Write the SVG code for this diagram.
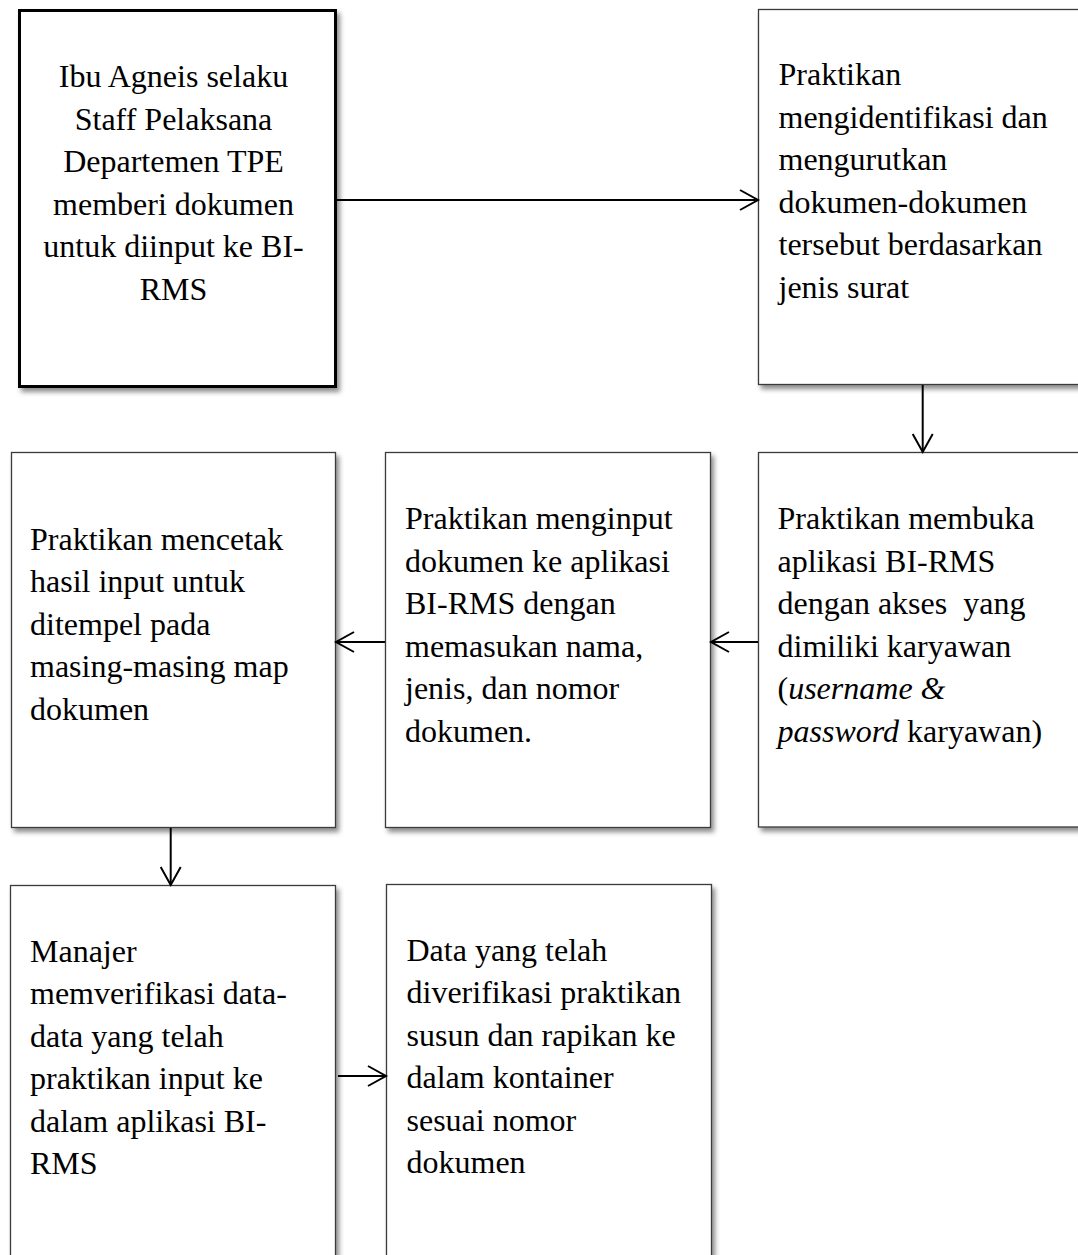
<svg xmlns="http://www.w3.org/2000/svg" width="1078" height="1255" viewBox="0 0 1078 1255">
<style>
.box{fill:#fff;stroke:#3a3a3a;stroke-width:1.3;filter:url(#sh)}
.thick{stroke:#000;stroke-width:3}
.t{font-family:"Liberation Serif","Times New Roman",serif;font-size:32px;fill:#000;white-space:pre}
.c{fill:none;stroke:#000;stroke-width:2;marker-end:url(#ah)}
</style>
<defs>
<filter id="sh" x="-10%" y="-10%" width="130%" height="130%">
<feDropShadow dx="3" dy="4" stdDeviation="2.5" flood-color="#000" flood-opacity="0.45"/>
</filter>
<marker id="ah" markerUnits="userSpaceOnUse" markerWidth="24" markerHeight="26" refX="19" refY="11" orient="auto" viewBox="0 0 24 26">
<path d="M1,1 L19,11 L1,21" fill="none" stroke="#000" stroke-width="2"/>
</marker>
</defs>
<g id="n1">
<rect class="box thick" x="19.5" y="10.5" width="316" height="376"/>
<text class="t" text-anchor="middle">
<tspan x="177.5" y="87.3">Ibu Agneis selaku</tspan>
<tspan x="177.5" y="129.8">Staff Pelaksana</tspan>
<tspan x="177.5" y="172.3">Departemen TPE</tspan>
<tspan x="177.5" y="214.8">memberi dokumen</tspan>
<tspan x="177.5" y="257.3">untuk diinput ke BI-</tspan>
<tspan x="177.5" y="299.8">RMS</tspan>
</text>
</g>
<g id="n2">
<rect class="box" x="758.5" y="9.5" width="340" height="375"/>
<text class="t">
<tspan x="778.5" y="85">Praktikan</tspan>
<tspan x="778.5" y="127.6">mengidentifikasi dan</tspan>
<tspan x="778.5" y="170.2">mengurutkan</tspan>
<tspan x="778.5" y="212.8">dokumen-dokumen</tspan>
<tspan x="778.5" y="255.4">tersebut berdasarkan</tspan>
<tspan x="778.5" y="298">jenis surat</tspan>
</text>
</g>
<g id="n3">
<rect class="box" x="11.5" y="452.5" width="324" height="375"/>
<text class="t">
<tspan x="30" y="549.5">Praktikan mencetak</tspan>
<tspan x="30" y="592">hasil input untuk</tspan>
<tspan x="30" y="634.5">ditempel pada</tspan>
<tspan x="30" y="677">masing-masing map</tspan>
<tspan x="30" y="719.5">dokumen</tspan>
</text>
</g>
<g id="n4">
<rect class="box" x="385.5" y="452.5" width="325" height="375"/>
<text class="t">
<tspan x="405" y="529.3">Praktikan menginput</tspan>
<tspan x="405" y="571.8">dokumen ke aplikasi</tspan>
<tspan x="405" y="614.3">BI-RMS dengan</tspan>
<tspan x="405" y="656.8">memasukan nama,</tspan>
<tspan x="405" y="699.3">jenis, dan nomor</tspan>
<tspan x="405" y="741.8">dokumen.</tspan>
</text>
</g>
<g id="n5">
<rect class="box" x="758.5" y="452.5" width="340" height="374.5"/>
<text class="t">
<tspan x="777.5" y="529.3">Praktikan membuka</tspan>
<tspan x="777.5" y="571.8">aplikasi BI-RMS</tspan>
<tspan x="777.5" y="614.3">dengan akses  yang</tspan>
<tspan x="777.5" y="656.8">dimiliki karyawan</tspan>
<tspan x="777.5" y="699.3">(<tspan font-style="italic">username &amp;</tspan></tspan>
<tspan x="777.5" y="741.8"><tspan font-style="italic">password</tspan> karyawan)</tspan>
</text>
</g>
<g id="n6">
<rect class="box" x="10.5" y="885.5" width="325" height="390"/>
<text class="t">
<tspan x="30" y="961.6">Manajer</tspan>
<tspan x="30" y="1004.1">memverifikasi data-</tspan>
<tspan x="30" y="1046.6">data yang telah</tspan>
<tspan x="30" y="1089.1">praktikan input ke</tspan>
<tspan x="30" y="1131.6">dalam aplikasi BI-</tspan>
<tspan x="30" y="1174.1">RMS</tspan>
</text>
</g>
<g id="n7">
<rect class="box" x="386.5" y="884.5" width="325" height="390"/>
<text class="t">
<tspan x="406.5" y="960.8">Data yang telah</tspan>
<tspan x="406.5" y="1003.3">diverifikasi praktikan</tspan>
<tspan x="406.5" y="1045.8">susun dan rapikan ke</tspan>
<tspan x="406.5" y="1088.3">dalam kontainer</tspan>
<tspan x="406.5" y="1130.8">sesuai nomor</tspan>
<tspan x="406.5" y="1173.3">dokumen</tspan>
</text>
</g>
<g id="connectors">
<line class="c" x1="337" y1="200" x2="758" y2="200"/>
<line class="c" x1="922.7" y1="385" x2="922.7" y2="452"/>
<line class="c" x1="758" y1="642" x2="711" y2="642"/>
<line class="c" x1="385" y1="642" x2="336" y2="642"/>
<line class="c" x1="170.7" y1="828" x2="170.7" y2="885"/>
<line class="c" x1="338" y1="1076" x2="386" y2="1076"/>
</g>
</svg>
